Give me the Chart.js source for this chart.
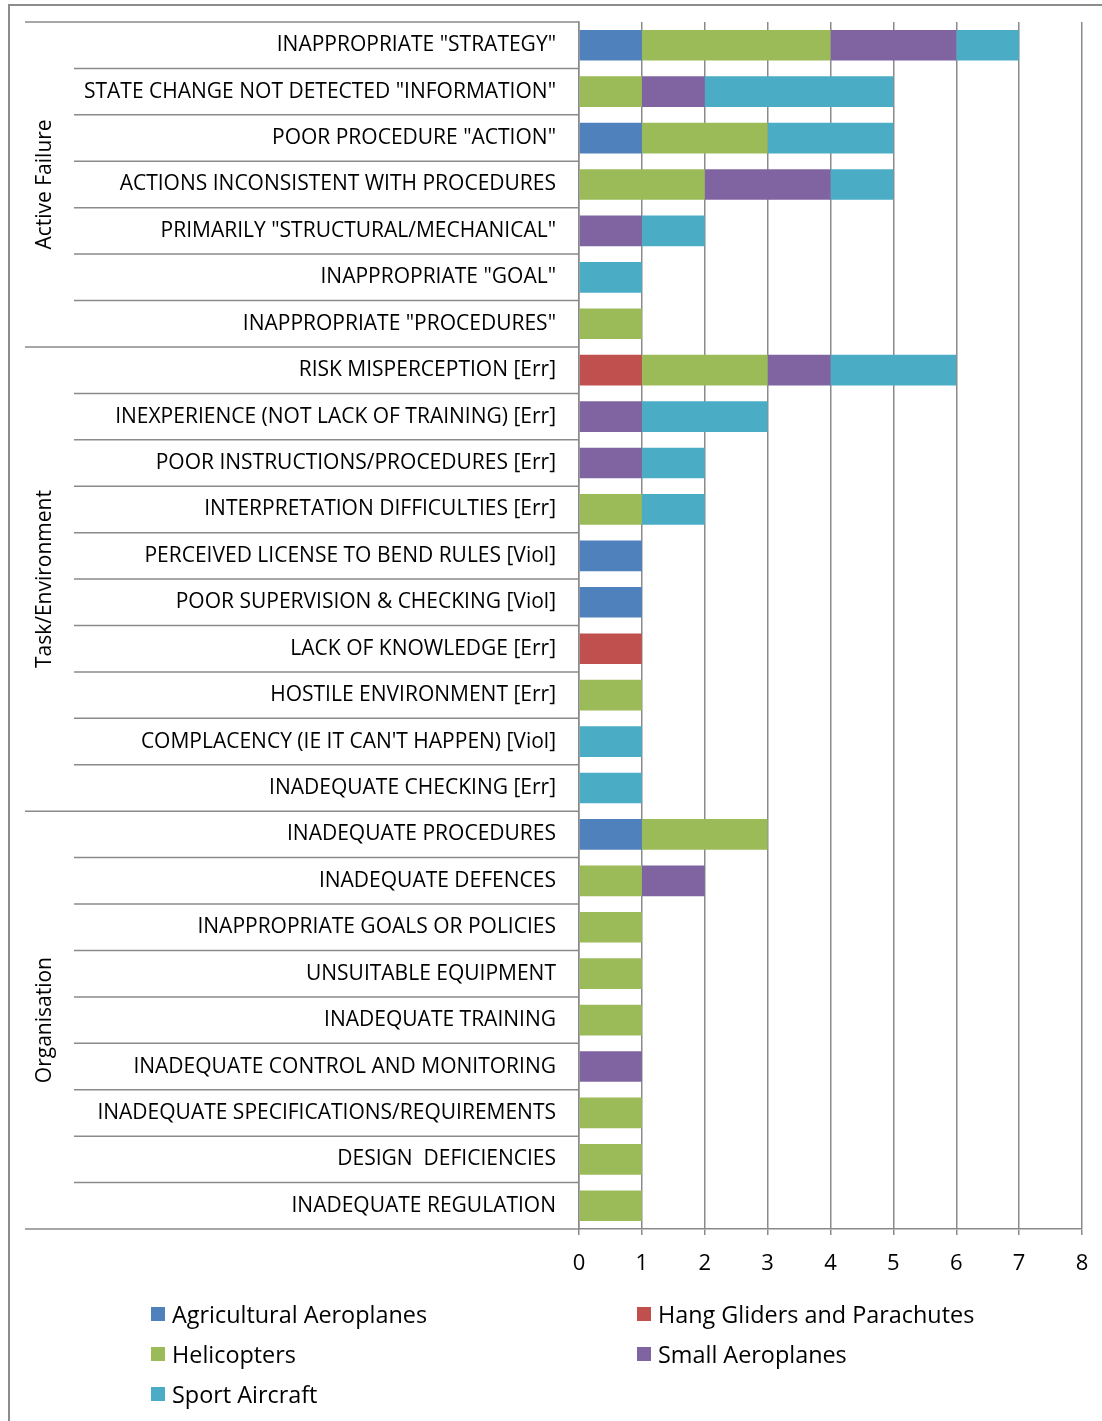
<!DOCTYPE html>
<html>
<head>
<meta charset="utf-8">
<script src="https://cdn.jsdelivr.net/npm/chart.js@4.4.1/dist/chart.umd.min.js"></script>
<style>
  html, body { margin: 0; padding: 0; background: #fff; }
  #wrap { position: absolute; left: 0; top: 0; width: 1102px; height: 1421px; }
  #frame { position: absolute; left: 8px; top: 4px; width: 1200px; height: 1500px;
           border-top: 2px solid #8c8c8c; border-left: 2px solid #8c8c8c; box-sizing: border-box; }
  #legend { position: absolute; left: 151px; top: 1299px; width: 900px;
            display: grid; grid-template-columns: 486px 400px; row-gap: 10px;
            font-family: "Open Sans", sans-serif; font-size: 23.4px; color: #000; }
  #legend .item { display: flex; align-items: center; height: 30px; }
  #legend .sw { width: 14px; height: 14px; margin-right: 7px; flex: none; }
</style>
</head>
<body>
<div id="frame"></div>
<div id="wrap"><canvas id="c"></canvas></div>
<div id="legend"></div>
<script>
const categories = [
  'INAPPROPRIATE "STRATEGY"',
  'STATE CHANGE NOT DETECTED "INFORMATION"',
  'POOR PROCEDURE "ACTION"',
  'ACTIONS INCONSISTENT WITH PROCEDURES',
  'PRIMARILY "STRUCTURAL/MECHANICAL"',
  'INAPPROPRIATE "GOAL"',
  'INAPPROPRIATE "PROCEDURES"',
  'RISK MISPERCEPTION [Err]',
  'INEXPERIENCE (NOT LACK OF TRAINING) [Err]',
  'POOR INSTRUCTIONS/PROCEDURES [Err]',
  'INTERPRETATION DIFFICULTIES [Err]',
  'PERCEIVED LICENSE TO BEND RULES [Viol]',
  'POOR SUPERVISION & CHECKING [Viol]',
  'LACK OF KNOWLEDGE [Err]',
  'HOSTILE ENVIRONMENT [Err]',
  "COMPLACENCY (IE IT CAN'T HAPPEN) [Viol]",
  'INADEQUATE CHECKING [Err]',
  'INADEQUATE PROCEDURES',
  'INADEQUATE DEFENCES',
  'INAPPROPRIATE GOALS OR POLICIES',
  'UNSUITABLE EQUIPMENT',
  'INADEQUATE TRAINING',
  'INADEQUATE CONTROL AND MONITORING',
  'INADEQUATE SPECIFICATIONS/REQUIREMENTS',
  'DESIGN  DEFICIENCIES',
  'INADEQUATE REGULATION'
];
const groups = ['Active Failure', 'Task/Environment', 'Organisation'];
const groupSizes = [7, 10, 9];
const seriesNames = ['Agricultural Aeroplanes', 'Hang Gliders and Parachutes', 'Helicopters', 'Small Aeroplanes', 'Sport Aircraft'];
const seriesColors = ['#4F81BD', '#C0504D', '#9BBB59', '#8064A2', '#4BACC6'];
const agricultural = [1,0,1,0,0,0,0, 0,0,0,0,1,1,0,0,0,0, 1,0,0,0,0,0,0,0,0];
const hangGliders  = [0,0,0,0,0,0,0, 1,0,0,0,0,0,1,0,0,0, 0,0,0,0,0,0,0,0,0];
const helicopters  = [3,1,2,2,0,0,1, 2,0,0,1,0,0,0,1,0,0, 2,1,1,1,1,0,1,1,1];
const smallAero    = [2,1,0,2,1,0,0, 1,1,1,0,0,0,0,0,0,0, 0,1,0,0,0,1,0,0,0];
const sportAir     = [1,3,2,1,1,1,0, 2,2,1,1,0,0,0,0,1,1, 0,0,0,0,0,0,0,0,0];
const xTicks = [0,1,2,3,4,5,6,7,8];
const seriesData = [agricultural, hangGliders, helicopters, smallAero, sportAir];

const FONT = '"Open Sans", sans-serif';
const GRID = '#8a8a8a';

const datasets = seriesNames.map((n, i) => ({
  label: n,
  data: seriesData[i].map(v => v === 0 ? null : v),
  backgroundColor: seriesColors[i],
  borderWidth: 0,
  barPercentage: 0.66,
  categoryPercentage: 1.0
}));

const decor = {
  id: 'decor',
  afterDraw(chart) {
    const ctx = chart.ctx;
    const y = chart.scales.y;
    const area = chart.chartArea;
    const step = y.getPixelForValue(1) - y.getPixelForValue(0);
    ctx.save();
    ctx.strokeStyle = GRID;
    ctx.lineWidth = 1.5;
    const groupStarts = [];
    let acc = 0;
    groupSizes.forEach(s => { groupStarts.push(acc); acc += s; });
    groupStarts.push(acc);
    for (let i = 0; i <= categories.length; i++) {
      const py = (i < categories.length ? y.getPixelForValue(i) - step / 2 : y.getPixelForValue(categories.length - 1) + step / 2);
      const isGroup = groupStarts.includes(i);
      const x0 = isGroup ? 25 : 74;
      ctx.beginPath();
      ctx.moveTo(x0, py);
      ctx.lineTo(area.left, py);
      ctx.stroke();
    }
    ctx.fillStyle = '#000';
    ctx.font = '21px ' + FONT;
    ctx.textAlign = 'center';
    ctx.textBaseline = 'middle';
    for (let g = 0; g < groups.length; g++) {
      const top = y.getPixelForValue(groupStarts[g]) - step / 2;
      const bot = y.getPixelForValue(groupStarts[g + 1] - 1) + step / 2;
      ctx.save();
      ctx.translate(45, (top + bot) / 2);
      ctx.rotate(-Math.PI / 2);
      ctx.fillText(groups[g], 0, 0);
      ctx.restore();
    }
    ctx.restore();
  }
};

const chart = new Chart(document.getElementById('c'), {
  type: 'bar',
  data: { labels: categories, datasets },
  options: {
    indexAxis: 'y',
    responsive: true,
    maintainAspectRatio: false,
    animation: false,
    layout: { padding: { top: 22, right: 20, left: 0, bottom: 0 } },
    plugins: { legend: { display: false }, tooltip: { enabled: false } },
    scales: {
      x: {
        stacked: true,
        min: 0, max: 8,
        afterBuildTicks(scale) { scale.ticks = xTicks.map(v => ({ value: v })); },
        afterFit(scale) { scale.height = 192; scale.paddingLeft = 0; scale.paddingRight = 0; },
        grid: { color: GRID, lineWidth: 1.5, tickLength: 6, drawTicks: true },
        border: { color: GRID, width: 1.5 },
        ticks: { color: '#000', font: { family: FONT, size: 22 }, padding: 16, maxRotation: 0 }
      },
      y: {
        stacked: true,
        afterFit(scale) { scale.width = 579; scale.paddingTop = 0; scale.paddingBottom = 0; },
        grid: { display: true, drawOnChartArea: false, drawTicks: false, color: GRID },
        border: { color: GRID, width: 1.5 },
        ticks: { color: '#000', font: { family: FONT, size: 21 }, padding: 23, autoSkip: false, crossAlign: 'near' }
      }
    }
  },
  plugins: [decor]
});

const leg = document.getElementById('legend');
seriesNames.forEach((n, i) => {
  const d = document.createElement('div');
  d.className = 'item';
  d.innerHTML = '<span class="sw" style="background:' + seriesColors[i] + '"></span><span></span>';
  d.lastChild.textContent = n;
  leg.appendChild(d);
});
</script>
</body>
</html>
